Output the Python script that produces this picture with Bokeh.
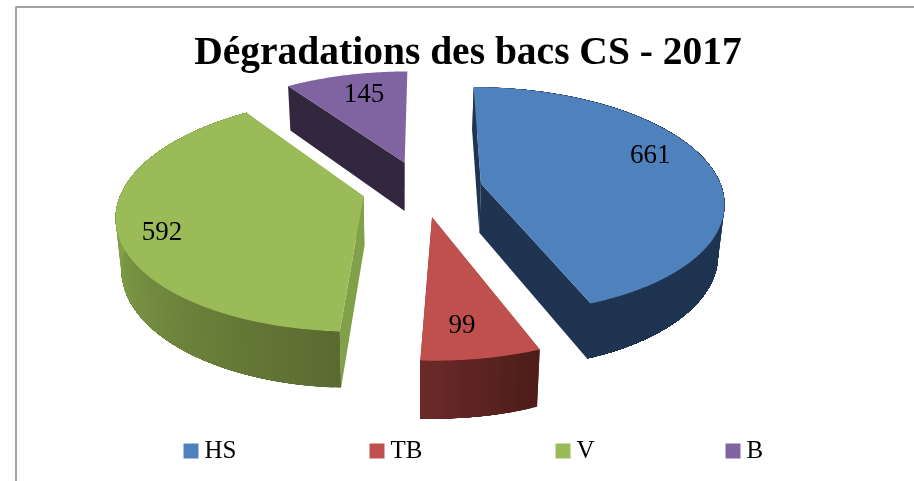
import math
from bokeh.core.properties import value
from bokeh.embed import file_html
from bokeh.models import Range1d
from bokeh.plotting import figure
from bokeh.resources import INLINE

TITLE = "Dégradations des bacs CS - 2017"
categories = ["HS", "TB", "V", "B"]
counts = [661, 99, 592, 145]
top_colors = ["#4f81bd", "#c0504d", "#9bbb59", "#8064a2"]

# Projection of the tilted pie: unit-radius slices on a plane seen in perspective
EXPLODE = 0.25
XV, YV, K, PERSP, SX, DX, SHEAR = 403.5, -555.6, 743.6, 0.1508, 241.0, 0.075, 2.7
DEPTH, DEPTH_POW, BOTTOM_SCALE = 49.5, 0.75, 0.98

WALLS = {  # slice index -> (colour at slice start angle, colour at slice end angle, angle span)
    0: ("#1f3451", "#1f3451", None),
    1: ("#4c1d18", "#6c2a2a", None),
    2: ("#5a6a30", "#84a24a", 82.0),
    3: ("#33273f", "#33273f", None),
}
RADIAL_COLORS = ["#1f3451", "#6c2a2a", "#82a047", "#33273f"]
SHOW_END_WALL = [True, True, True, False]
LABEL_R = [0.79, 0.79, 0.835, 0.76]
LABEL_TURN = [-9.0, 2.0, -5.0, 2.0]
LEGEND_X = [183, 369, 555, 725]
TITLE_SHIFT, LABEL_SHIFT, LEGEND_SHIFT = 12.0, -1.0, 9.0


def project(X, Y):
    w = 1 + PERSP * Y
    return XV + SX * (X + DX) / w + SHEAR * Y, YV + K / w


def drop(X, Y):
    x, y = project(X, Y)
    w = 1 + PERSP * Y
    return XV + (x - XV) * BOTTOM_SCALE, y + DEPTH / w ** DEPTH_POW


def polar(apex, theta, r):
    t = math.radians(theta)
    return apex[0] + r * math.sin(t), apex[1] + r * math.cos(t)


def mix(a, b, t):
    t = max(0.0, min(1.0, t))
    ca = [int(a[i:i + 2], 16) for i in (1, 3, 5)]
    cb = [int(b[i:i + 2], 16) for i in (1, 3, 5)]
    return "#%02x%02x%02x" % tuple(round(p + (q - p) * t) for p, q in zip(ca, cb))


total = sum(counts)
slices = []
acc = 0.0
for v in counts:
    start = acc / total * 360
    acc += v
    end = acc / total * 360
    mid = (start + end) / 2
    slices.append((start, end, mid, polar((0, 0), mid, EXPLODE)))

xs, ys, colors = [], [], []


def add(points, color):
    xs.append([q[0] for q in points])
    ys.append([q[1] for q in points])
    colors.append(color)


for i in (3, 2, 0, 1):  # back to front
    start, end, mid, apex = slices[i]
    for th in ((start, end) if SHOW_END_WALL[i] else (start,)):
        rim = polar(apex, th, 1)
        add([project(*apex), project(*rim), drop(*rim), drop(*apex)], RADIAL_COLORS[i])
    # outer wall: each strip runs on to the slice's far end, the next one paints over it
    c0, c1, span = WALLS[i]
    n = max(2, int((end - start) / 1.5))
    if i != 3:
        for k in range(n):
            a = start + (end - start) * k / n
            mid_t = ((k + 0.5) / n) if span is None else ((a + (end - start) / n / 2) - start) / span
            m = max(2, int((end - a) / 2) + 1)
            arc = [polar(apex, a + (end - a) * j / m, 1) for j in range(m + 1)]
            add([project(*q) for q in arc] + [drop(*q) for q in reversed(arc)], mix(c0, c1, mid_t))
    n = int(end - start) * 2 + 2
    top = [project(*apex)]
    top += [project(*polar(apex, start + (end - start) * k / n, 1)) for k in range(n + 1)]
    add(top, top_colors[i])

p = figure(width=914, height=481, output_backend="svg", toolbar_location=None,
           x_range=Range1d(0, 914), y_range=Range1d(481, 0), min_border=0,
           outline_line_color=None, background_fill_color="white",
           styles={"position": "fixed", "left": "0", "top": "0"})
p.axis.visible = False
p.grid.visible = False

# chart frame: only the top and left edges lie inside the picture
p.line([15.5, 15.5, 914], [481, 6.5, 6.5], line_color="#a3a3a3", line_width=2)

p.patches(xs, ys, fill_color=colors, line_color=None)

SERIF = value("Liberation Serif")
p.text([467.5], [62 - TITLE_SHIFT], text=[TITLE], text_font=SERIF, text_font_size="39.5px",
       text_font_style="bold", text_color="black", text_align="center", text_baseline="alphabetic")

lx, ly, lt = [], [], []
for i, s in enumerate(slices):
    q = project(*polar(s[3], s[2] + LABEL_TURN[i], LABEL_R[i]))
    lx.append(q[0])
    ly.append(q[1] + LABEL_SHIFT)
    lt.append(str(counts[i]))
p.text(lx, ly, text=lt, text_font=SERIF, text_font_size="27px", text_color="black",
       text_align="center", text_baseline="alphabetic")

p.quad(left=LEGEND_X, right=[x + 15 for x in LEGEND_X], top=[443] * 4, bottom=[458] * 4,
       fill_color=top_colors, line_color=None)
p.text([x + 21 for x in LEGEND_X], [458 - LEGEND_SHIFT] * 4, text=categories, text_font=SERIF,
       text_font_size="25px", text_color="black", text_align="left", text_baseline="alphabetic")

open("out.html", "w").write(file_html(p, INLINE))
